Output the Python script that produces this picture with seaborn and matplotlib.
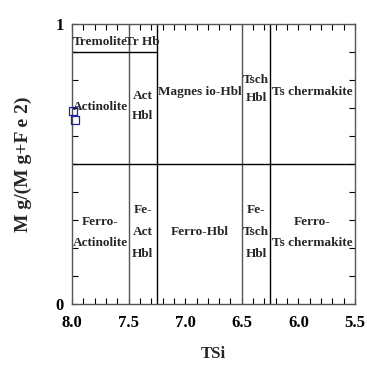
import numpy as np
import pandas as pd
import matplotlib
matplotlib.use("Agg")
import matplotlib.pyplot as plt
from matplotlib.ticker import MultipleLocator, FixedLocator
import seaborn as sns

# sample points
tsi = [7.99, 7.97]
mg_ratio = [0.69, 0.657]

# classification boundaries
full_vlines = [7.5, 7.25, 6.5, 6.25]
vline_colors = ["#555555", "black", "#555555", "black"]
mid_hline = 0.5
top_hline = 0.9
top_hline_xmax = 7.25

# field labels: (x, y, text, line spacing)
field_labels = [
    (7.75, 0.937, "Tremolite", 1.0),
    (7.38, 0.937, "Tr Hb", 1.0),
    (7.75, 0.705, "Actinolite", 1.0),
    (7.375, 0.708, "Act\nHbl", 1.9),
    (6.875, 0.758, "Magnes io-Hbl", 1.0),
    (6.375, 0.768, "Tsch\nHbl", 1.6),
    (5.875, 0.758, "Ts chermakite", 1.0),
    (7.75, 0.257, "Ferro-\nActinolite", 2.0),
    (7.375, 0.258, "Fe-\nAct\nHbl", 2.1),
    (6.875, 0.258, "Ferro-Hbl", 1.0),
    (6.375, 0.258, "Fe-\nTsch\nHbl", 2.1),
    (5.875, 0.257, "Ferro-\nTs chermakite", 2.0),
]

xticks = [8.0, 7.5, 7.0, 6.5, 6.0, 5.5]

sns.set_style("ticks")
plt.rcParams["font.family"] = ["Liberation Serif", "DejaVu Serif"]
plt.rcParams["font.weight"] = "bold"

df = pd.DataFrame({"TSi": tsi, "Mg": mg_ratio})

fig = plt.figure(figsize=(3.67, 3.65), dpi=100)
ax = fig.add_axes([72 / 367, 1 - 304 / 365, 283 / 367, 280 / 365])

sns.scatterplot(data=df, x="TSi", y="Mg", ax=ax, marker="s", s=32,
                facecolor="none", edgecolor="#2020a8", linewidth=0.9,
                zorder=5, clip_on=False)

for xv, c in zip(full_vlines, vline_colors):
    ax.axvline(xv, color=c, lw=1.0)
ax.axhline(mid_hline, color="black", lw=1.0)
ax.plot([8.0, top_hline_xmax], [top_hline, top_hline], color="black", lw=1.0)

for x, y, t, ls in field_labels:
    ax.text(x, y, t, ha="center", va="center", fontsize=9.5, fontweight="bold",
            linespacing=ls)

ax.set_xlim(8.0, 5.5)
ax.set_ylim(0, 1)
ax.xaxis.set_major_locator(FixedLocator(xticks))
ax.xaxis.set_minor_locator(MultipleLocator(0.1))
ax.yaxis.set_major_locator(FixedLocator([0, 1]))
ax.yaxis.set_minor_locator(MultipleLocator(0.1))
ax.set_xticklabels([f"{v:.1f}" for v in xticks])
ax.tick_params(which="both", direction="in", top=True, right=True,
               labelsize=12, width=0.8, colors="black")
ax.tick_params(which="major", length=4)
ax.tick_params(which="minor", length=4)
ax.tick_params(axis="x", which="major", pad=8)
ax.tick_params(axis="y", which="major", pad=6)
for lab in ax.get_xticklabels() + ax.get_yticklabels():
    lab.set_fontweight("bold")
for sp in ax.spines.values():
    sp.set_color("#555555")
    sp.set_linewidth(1.0)

ax.set_xlabel("TSi", fontsize=12, fontweight="bold", labelpad=11)
ax.set_ylabel("M g/(M g+F e 2)", fontsize=14, fontweight="bold", labelpad=17)

fig.savefig("out.png", dpi=100)
